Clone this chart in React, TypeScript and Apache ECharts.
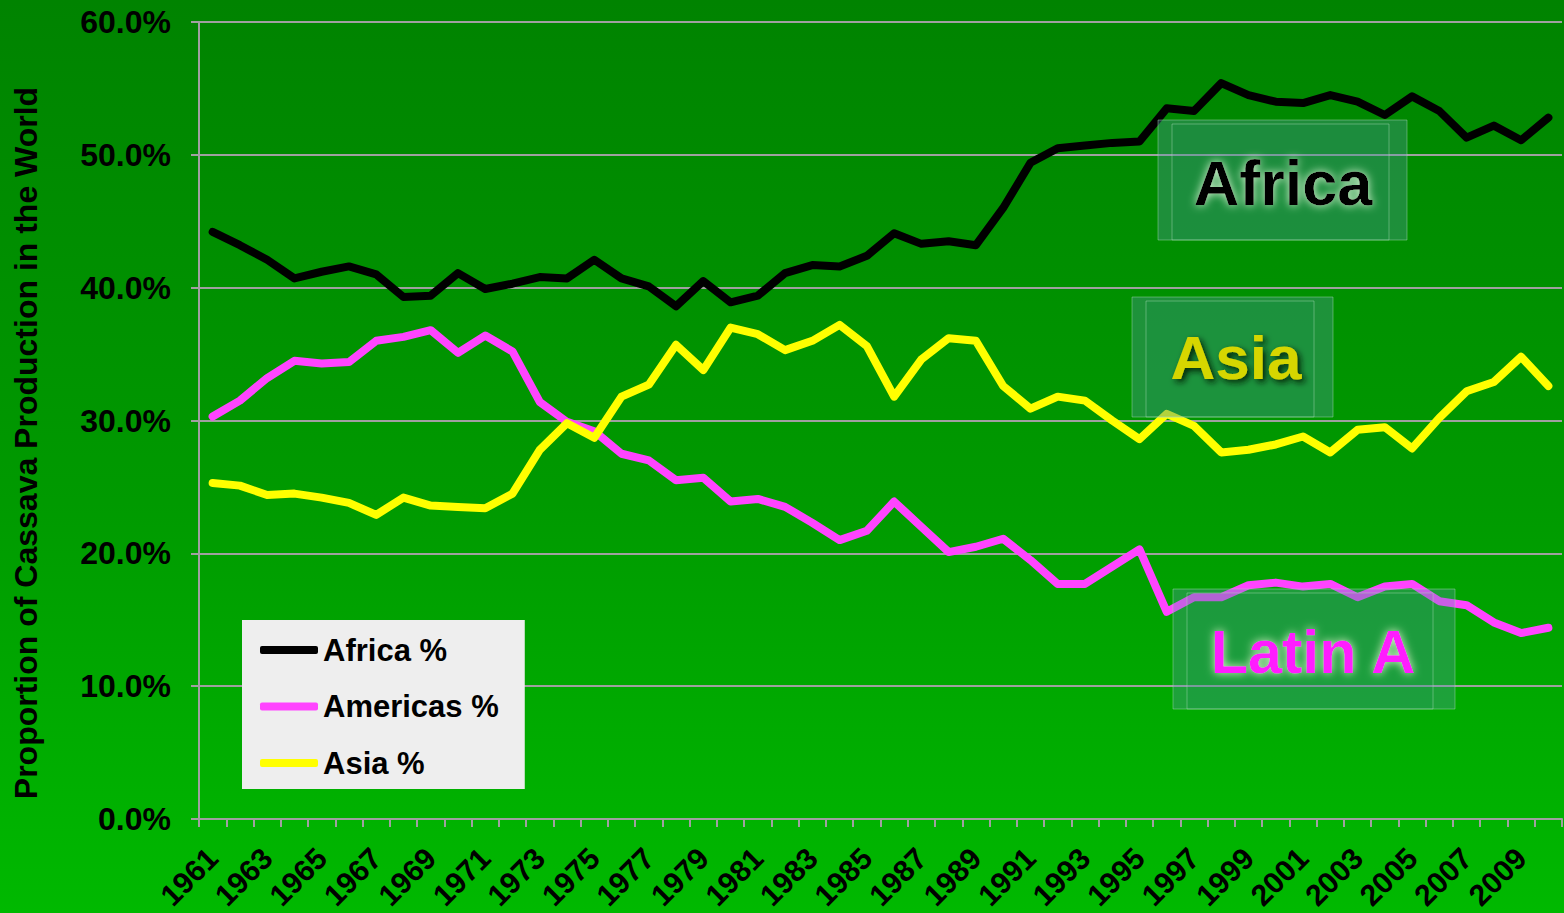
import React, { useEffect, useRef } from "react";
import * as echarts from "echarts";

const years = [
  "1961", "1962", "1963", "1964", "1965", "1966", "1967", "1968", "1969", "1970",
  "1971", "1972", "1973", "1974", "1975", "1976", "1977", "1978", "1979", "1980",
  "1981", "1982", "1983", "1984", "1985", "1986", "1987", "1988", "1989", "1990",
  "1991", "1992", "1993", "1994", "1995", "1996", "1997", "1998", "1999", "2000",
  "2001", "2002", "2003", "2004", "2005", "2006", "2007", "2008", "2009", "2010",
];

const africa = [
  44.2, 43.2, 42.1, 40.7, 41.2, 41.6, 41.0, 39.3, 39.4, 41.1,
  39.9, 40.3, 40.8, 40.7, 42.1, 40.7, 40.1, 38.6, 40.5, 38.9,
  39.4, 41.1, 41.7, 41.6, 42.4, 44.1, 43.3, 43.5, 43.2, 46.0,
  49.4, 50.5, 50.7, 50.9, 51.0, 53.5, 53.3, 55.4, 54.5, 54.0,
  53.9, 54.5, 54.0, 53.0, 54.4, 53.3, 51.3, 52.2, 51.1, 52.8,
];

const americas = [
  30.3, 31.5, 33.2, 34.5, 34.3, 34.4, 36.0, 36.3, 36.8, 35.1,
  36.4, 35.2, 31.4, 29.9, 29.2, 27.5, 27.0, 25.5, 25.7, 23.9,
  24.1, 23.5, 22.3, 21.0, 21.7, 23.9, 22.0, 20.1, 20.5, 21.1,
  19.5, 17.7, 17.7, 19.0, 20.3, 15.6, 16.7, 16.7, 17.6, 17.8,
  17.5, 17.7, 16.7, 17.5, 17.7, 16.4, 16.1, 14.8, 14.0, 14.4,
];

const asia = [
  25.3, 25.1, 24.4, 24.5, 24.2, 23.8, 22.9, 24.2, 23.6, 23.5,
  23.4, 24.5, 27.8, 29.8, 28.7, 31.8, 32.7, 35.7, 33.8, 37.0,
  36.5, 35.3, 36.0, 37.2, 35.6, 31.8, 34.6, 36.2, 36.0, 32.6,
  30.9, 31.8, 31.5, 30.0, 28.6, 30.5, 29.6, 27.6, 27.8, 28.2,
  28.8, 27.6, 29.3, 29.5, 27.9, 30.2, 32.2, 32.9, 34.8, 32.6,
];

const seriesNames = ["Africa %", "Americas %", "Asia %"];
const yTitle = "Proportion of Cassava Production in the World";
const regionLabels = ["Africa", "Asia", "Latin A"];

const FONT = "'Liberation Sans', Arial, sans-serif";

function regionBox(
  outer: number[],
  inner: number[],
  label: string,
  cx: number,
  cy: number,
  size: number,
  fill: string,
  shadowColor: string,
  shadowBlur: number,
  offX: number,
  offY: number
) {
  return {
    type: "group",
    z: 20,
    children: [
      {
        type: "rect",
        shape: { x: outer[0], y: outer[1], width: outer[2], height: outer[3] },
        style: {
          fill: "rgba(90,150,175,0.33)",
          stroke: "rgba(170,220,185,0.45)",
          lineWidth: 1,
        },
        z: 20,
      },
      {
        type: "rect",
        shape: { x: inner[0], y: inner[1], width: inner[2], height: inner[3] },
        style: {
          fill: "rgba(20,140,90,0.12)",
          stroke: "rgba(170,220,185,0.45)",
          lineWidth: 1,
        },
        z: 21,
      },
      {
        type: "text",
        x: cx,
        y: cy,
        z: 22,
        style: {
          text: label,
          fill,
          font: `bold ${size}px ${FONT}`,
          align: "center",
          verticalAlign: "middle",
          textShadowColor: shadowColor,
          textShadowBlur: shadowBlur,
          textShadowOffsetX: offX,
          textShadowOffsetY: offY,
        },
      },
    ],
  };
}

export default function App() {
  const ref = useRef<HTMLDivElement>(null);

  useEffect(() => {
    if (!ref.current) return;
    const chart = echarts.init(ref.current, null, { renderer: "svg" });
    const colors = ["#000000", "#ff44ff", "#ffff00"];
    const datasets = [africa, americas, asia];

    chart.setOption({
      animation: false,
      backgroundColor: "transparent",
      grid: { left: 199, right: 2, top: 22, bottom: 93, containLabel: false },
      legend: {
        orient: "vertical",
        left: 242,
        top: 620,
        backgroundColor: "#eeeeee",
        borderWidth: 0,
        padding: [13, 26, 9, 18],
        itemGap: 22.5,
        itemWidth: 58,
        itemHeight: 8,
        icon: "roundRect",
        data: seriesNames,
        textStyle: {
          fontFamily: FONT,
          fontWeight: "bold",
          fontSize: 31,
          lineHeight: 34,
          color: "#000",
        },
        z: 30,
      },
      xAxis: {
        type: "category",
        data: years,
        boundaryGap: true,
        axisLine: { show: true, lineStyle: { color: "#a0a0a0", width: 2 } },
        axisTick: { show: true, interval: 0, length: 8, lineStyle: { color: "#a0a0a0", width: 2 } },
        axisLabel: {
          interval: 1,
          rotate: 45,
          margin: 34,
          color: "#000",
          fontFamily: FONT,
          fontWeight: "bold",
          fontSize: 30,
        },
        splitLine: { show: false },
      },
      yAxis: {
        type: "value",
        min: 0,
        max: 60,
        interval: 10,
        axisLine: { show: true, lineStyle: { color: "#a0a0a0", width: 2 } },
        axisTick: { show: true, length: 8, lineStyle: { color: "#a0a0a0", width: 2 } },
        axisLabel: {
          margin: 28,
          color: "#000",
          fontFamily: FONT,
          fontWeight: "bold",
          fontSize: 32,
          formatter: (v: number) => `${v.toFixed(1)}%`,
        },
        splitLine: { show: true, lineStyle: { color: "#a0a0a0", width: 2 } },
      },
      series: seriesNames.map((name, i) => ({
        name,
        type: "line",
        data: datasets[i],
        showSymbol: false,
        symbol: "none",
        color: colors[i],
        lineStyle: { color: colors[i], width: 8, cap: "round", join: "round" },
        z: 2 + i,
      })),
      graphic: [
        {
          type: "text",
          x: 26,
          y: 443,
          rotation: Math.PI / 2,
          z: 10,
          style: {
            text: yTitle,
            fill: "#000",
            font: `bold 32px ${FONT}`,
            align: "center",
            verticalAlign: "middle",
          },
        },
        regionBox(
          [1158, 120, 249, 120],
          [1172, 124, 217, 116],
          regionLabels[0],
          1283,
          183,
          63,
          "#000000",
          "rgba(235,255,225,0.95)",
          10,
          0,
          0
        ),
        regionBox(
          [1132, 297, 201, 120],
          [1146, 301, 168, 116],
          regionLabels[1],
          1236,
          357,
          62,
          "#d6d600",
          "rgba(0,20,0,0.9)",
          6,
          3,
          3
        ),
        regionBox(
          [1173, 589, 282, 120],
          [1187, 593, 246, 116],
          regionLabels[2],
          1313,
          652,
          61,
          "#ff1aff",
          "rgba(245,255,220,0.9)",
          10,
          0,
          0
        ),
      ],
    });

    return () => chart.dispose();
  }, []);

  return (
    <div
      ref={ref}
      style={{
        position: "absolute",
        left: 0,
        top: 0,
        width: 1564,
        height: 913,
        background: "linear-gradient(180deg, #008300 0%, #009a00 55%, #00b900 100%)",
      }}
    />
  );
}
